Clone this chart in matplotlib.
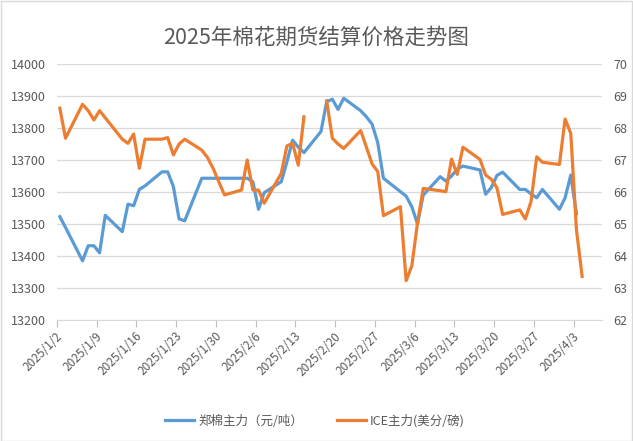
import numpy as np
import pandas as pd
import matplotlib
matplotlib.use('Agg')
import matplotlib.pyplot as plt
import matplotlib.dates as mdates
import matplotlib.transforms as mtransforms
from matplotlib.patches import Rectangle

plt.rcParams['font.family'] = ['Noto Sans CJK SC', 'DejaVu Sans']

# trading dates (union of both markets)
dates = ['2025-01-02', '2025-01-03', '2025-01-06', '2025-01-07', '2025-01-08',
         '2025-01-09', '2025-01-10', '2025-01-13', '2025-01-14', '2025-01-15',
         '2025-01-16', '2025-01-17', '2025-01-20', '2025-01-21', '2025-01-22',
         '2025-01-23', '2025-01-24', '2025-01-27', '2025-01-28', '2025-01-29',
         '2025-01-30', '2025-01-31', '2025-02-03', '2025-02-04', '2025-02-05',
         '2025-02-06', '2025-02-07', '2025-02-10', '2025-02-11', '2025-02-12',
         '2025-02-13', '2025-02-14', '2025-02-17', '2025-02-18', '2025-02-19',
         '2025-02-20', '2025-02-21', '2025-02-24', '2025-02-25', '2025-02-26',
         '2025-02-27', '2025-02-28', '2025-03-03', '2025-03-04', '2025-03-05',
         '2025-03-06', '2025-03-07', '2025-03-10', '2025-03-11', '2025-03-12',
         '2025-03-13', '2025-03-14', '2025-03-17', '2025-03-18', '2025-03-19',
         '2025-03-20', '2025-03-21', '2025-03-24', '2025-03-25', '2025-03-26',
         '2025-03-27', '2025-03-28', '2025-03-31', '2025-04-01', '2025-04-02',
         '2025-04-03', '2025-04-04']

# 郑棉主力 (元/吨)
zheng = [13523, 13489, 13385, 13432, 13432, 13410, 13527, 13476, 13562, 13557,
         13608, 13619, 13663, 13663, 13617, 13516, 13510, 13643, 13643, 13643,
         13643, 13643, 13643, 13643, 13632, 13546, 13598, 13632, 13694, 13762,
         13740, 13723, 13789, 13882, 13890, 13858, 13893, 13854, 13835, 13812,
         13754, 13643, 13601, 13587, 13554, 13500, 13590, 13648, 13634, 13650,
         13672, 13681, 13669, 13593, 13614, 13652, 13662, 13608, 13608, 13594,
         13582, 13608, 13546, 13582, 13653, 13532, None]

# ICE主力 (美分/磅)
ice = [68.62, 67.68, 68.74, 68.54, 68.25, 68.54, 68.32, 67.65, 67.52, 67.81,
       66.74, 67.65, 67.65, 67.70, 67.16, 67.50, 67.65, 67.31, 67.08, 66.74,
       66.32, 65.91, 66.06, 67.00, 66.06, 66.06, 65.65, 66.58, 67.44, 67.52,
       66.84, 68.35, None, 68.85, 67.68, 67.50, 67.36, 67.92, 67.40, 66.88,
       66.64, 65.26, 65.54, 63.23, 63.69, 65.03, 66.11, 66.04, 66.01, 67.03,
       66.55, 67.40, 67.02, 66.53, 66.40, 66.13, 65.30, 65.44, 65.16, 65.70,
       67.10, 66.93, 66.86, 68.28, 67.83, 64.82, 63.36]

left_ticks = list(range(13200, 14001, 100))
right_ticks = list(range(62, 71))
title = '2025年棉花期货结算价格走势图'

BLUE = '#5B9BD5'
ORANGE = '#ED7D31'
GRID = '#D9D9D9'
TEXT = '#595959'

x = mdates.date2num(pd.to_datetime(dates))
y1 = np.array([np.nan if v is None else v for v in zheng], dtype=float)
y2 = np.array([np.nan if v is None else v for v in ice], dtype=float)

fig = plt.figure(figsize=(6.33, 4.41), dpi=100)
ax = fig.add_axes([57 / 633, 1 - 320 / 441, 545 / 633, 256 / 441])
ax2 = ax.twinx()

l1, = ax.plot(x, y1, color=BLUE, lw=2.3, solid_joinstyle='round')
l2, = ax2.plot(x, y2, color=ORANGE, lw=2.3, solid_joinstyle='round')

start = mdates.date2num(pd.Timestamp('2025-01-02'))
end = mdates.date2num(pd.Timestamp('2025-04-07'))
ax.set_xlim(start - 0.5, end + 0.5)
tick_days = pd.date_range('2025-01-02', '2025-04-03', freq='7D')
ax.set_xticks(mdates.date2num(tick_days) - 0.5)
ax.set_xticklabels([f'{d.year}/{d.month}/{d.day}' for d in tick_days],
                   rotation=45, ha='right', va='top')

ax.set_ylim(13200, 14000)
ax.set_yticks(left_ticks)
ax2.set_ylim(62, 70)
ax2.set_yticks(right_ticks)

ax.yaxis.grid(True, color=GRID, lw=0.9)
ax.set_axisbelow(True)
for s in ['top', 'left', 'right']:
    ax.spines[s].set_visible(False)
ax.spines['bottom'].set_color(GRID)
for s in ax2.spines.values():
    s.set_visible(False)

ax.tick_params(axis='x', direction='out', length=5, color='#BFBFBF',
               labelcolor=TEXT, labelsize=8.5, pad=2)
ax.tick_params(axis='y', length=0, labelcolor=TEXT, labelsize=9, pad=8)
ax2.tick_params(axis='y', length=0, labelcolor=TEXT, labelsize=9, pad=8)

# shift rotated date labels so their ends sit by the tick
offset = mtransforms.ScaledTranslation(0.08, 0, fig.dpi_scale_trans)
for lab in ax.get_xticklabels():
    lab.set_transform(lab.get_transform() + offset)

fig.text(0.5, 1 - 38 / 441, title, ha='center', va='center',
         fontsize=15.5, color=TEXT)

fig.legend([l1, l2], ['郑棉主力（元/吨）', 'ICE主力(美分/磅)'],
           loc='center', bbox_to_anchor=(0.498, 1 - 421 / 441), ncol=2,
           frameon=False, fontsize=9, labelcolor=TEXT, handlelength=2.3,
           handletextpad=0.35, columnspacing=2.7)

fig.add_artist(Rectangle((0.5 / 633, 0.5 / 441), 631.5 / 633, 439.5 / 441,
                         transform=fig.transFigure, fill=False,
                         edgecolor=GRID, lw=1))

fig.savefig('out.png', dpi=100)
